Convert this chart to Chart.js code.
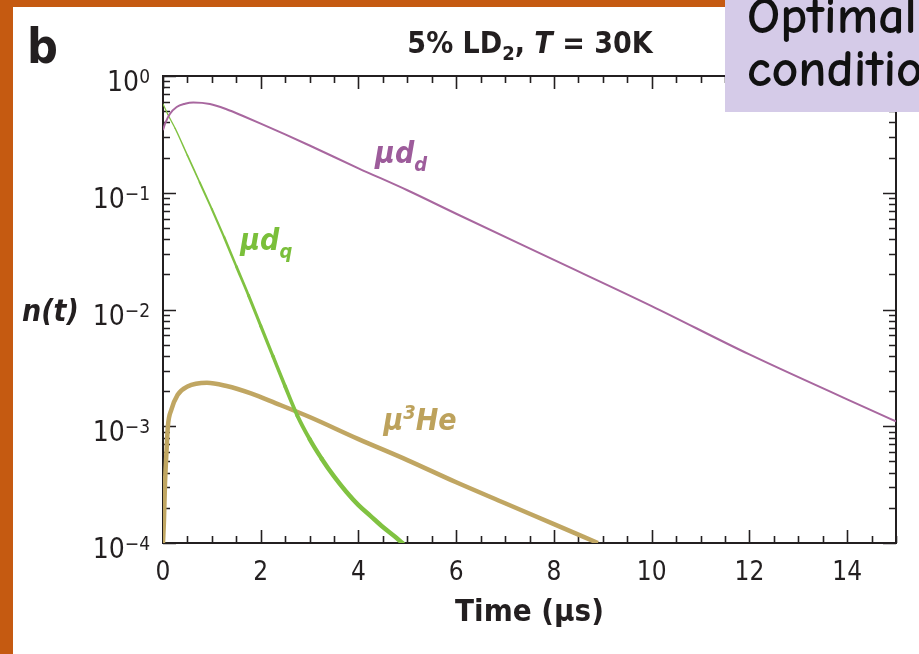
<!DOCTYPE html>
<html lang="en">
<head>
<meta charset="utf-8">
<title>n(t)</title>
<script src="https://cdn.jsdelivr.net/npm/chart.js@4.4.1/dist/chart.umd.min.js"></script>
<style>
  html, body { margin: 0; padding: 0; background: #fff; }
  canvas { display: block; }
</style>
</head>
<body>
<canvas id="graficoN" width="919" height="654"></canvas>
<script>
// valores (eixo y logaritmico)
const tempoDd = [0, 0.05, 0.14, 0.28, 0.45, 0.62, 0.96, 1.3, 1.65, 2, 2.5, 3, 4, 5, 6, 8, 10, 12, 15];
const nDd = [0.344, 0.398, 0.473, 0.543, 0.578, 0.592, 0.575, 0.519, 0.452, 0.391, 0.316, 0.254, 0.162, 0.105, 0.0661, 0.0266, 0.0107, 0.00412, 0.0011];

const tempoDq = [0, 0.1, 0.25, 0.5, 0.75, 1, 1.25, 1.5, 1.75, 2, 2.25, 2.5, 2.75, 3, 3.25, 3.5, 3.75, 4, 4.25, 4.5, 4.75, 4.9];
const nDq = [0.575, 0.468, 0.355, 0.209, 0.123, 0.0724, 0.0417, 0.0234, 0.0132, 0.00724, 0.00398, 0.00219, 0.00123, 0.000776, 0.000525, 0.000372, 0.000275, 0.000211, 0.00017, 0.000137, 0.000113, 0.0001];

const tempoHe = [0, 0.02, 0.04, 0.07, 0.1, 0.17, 0.3, 0.5, 0.9, 1.3, 1.8, 2.3, 3, 4, 5, 6, 7, 8, 8.9];
const nHe = [0.0001, 0.000158, 0.000316, 0.000589, 0.001, 0.00138, 0.00186, 0.00219, 0.00236, 0.00221, 0.00191, 0.00158, 0.0012, 0.000776, 0.000513, 0.000331, 0.000219, 0.000145, 0.0001];

const rotulosX = [0, 2, 4, 6, 8, 10, 12, 14];
const decadasY = [1, 0.1, 0.01, 0.001, 0.0001];
const expoentesY = ['0', '\u22121', '\u22122', '\u22123', '\u22124'];

const FONTE = "'Liberation Sans Narrow', 'DejaVu Sans Condensed', 'Liberation Sans', sans-serif";

const pontos = (xs, ys) => xs.map((x, i) => ({ x: x, y: ys[i] }));

// escreve texto com partes em fontes diferentes (sub/sobrescritos)
function textoRico(ctx, x, y, partes, alinhar) {
    let total = 0;
    for (const p of partes) {
        ctx.font = p.f;
        total += ctx.measureText(p.t).width;
    }
    let cx = alinhar === 'center' ? x - total / 2 : alinhar === 'right' ? x - total : x;
    ctx.textAlign = 'left';
    ctx.textBaseline = 'alphabetic';
    for (const p of partes) {
        ctx.font = p.f;
        ctx.fillStyle = p.c || '#231f20';
        ctx.fillText(p.t, cx, y + (p.dy || 0));
        cx += ctx.measureText(p.t).width;
    }
}

const moldura = {
    id: 'moldura',
    beforeDatasetsDraw(chart) {
        const { ctx, chartArea: a, scales: { x, y } } = chart;
        ctx.save();
        ctx.strokeStyle = '#231f20';
        ctx.lineWidth = 1.6;
        ctx.beginPath();
        for (let t = 0; t <= 15; t += 0.5) {
            const px = Math.round(x.getPixelForValue(t)) + 0.5;
            const len = t % 2 === 0 ? 13 : 7;
            ctx.moveTo(px, a.bottom); ctx.lineTo(px, a.bottom - len);
            ctx.moveTo(px, a.top); ctx.lineTo(px, a.top + len);
        }
        for (let d = -4; d <= 0; d++) {
            for (let m = 1; m <= 9; m++) {
                const v = m * Math.pow(10, d);
                if (v > 1.0001) break;
                const py = Math.round(y.getPixelForValue(v)) + 0.5;
                const len = m === 1 ? 13 : 7;
                ctx.moveTo(a.left, py); ctx.lineTo(a.left + len, py);
                ctx.moveTo(a.right, py); ctx.lineTo(a.right - len, py);
            }
        }
        ctx.stroke();
        ctx.lineWidth = 2;
        ctx.strokeRect(a.left, a.top, a.right - a.left, a.bottom - a.top);
        ctx.restore();
    }
};

const textos = {
    id: 'textos',
    afterDraw(chart) {
        const { ctx, scales: { x, y } } = chart;
        ctx.save();

        // rotulos do eixo y: 10^n
        decadasY.forEach((v, i) => {
            const py = y.getPixelForValue(v);
            textoRico(ctx, 150, py + 15, [
                { t: '10', f: '28px ' + FONTE },
                { t: expoentesY[i], f: '19px ' + FONTE, dy: -8 }
            ], 'right');
        });

        textoRico(ctx, 22, 321, [{ t: 'n(t)', f: 'italic bold 30px ' + FONTE }]);
        textoRico(ctx, 27, 63, [{ t: 'b', f: 'bold 48px ' + FONTE }]);
        textoRico(ctx, 530, 53, [
            { t: '5% LD', f: 'bold 30px ' + FONTE },
            { t: '2', f: 'bold 20px ' + FONTE, dy: 7 },
            { t: ', ', f: 'bold 30px ' + FONTE },
            { t: 'T', f: 'italic bold 30px ' + FONTE },
            { t: ' = 30K', f: 'bold 30px ' + FONTE }
        ], 'center');

        // nomes das curvas
        const big = 'italic bold 30px ' + FONTE, small = 'italic bold 20px ' + FONTE;
        textoRico(ctx, x.getPixelForValue(4.34), y.getPixelForValue(0.18), [
            { t: '\u03bcd', f: big, c: '#9d5c9b' },
            { t: 'd', f: small, c: '#9d5c9b', dy: 8 }
        ]);
        textoRico(ctx, x.getPixelForValue(1.58), y.getPixelForValue(0.0324), [
            { t: '\u03bcd', f: big, c: '#7abf3a' },
            { t: 'q', f: small, c: '#7abf3a', dy: 8 }
        ]);
        textoRico(ctx, x.getPixelForValue(4.51), y.getPixelForValue(0.00093), [
            { t: '\u03bc', f: big, c: '#bda25c' },
            { t: '3', f: small, c: '#bda25c', dy: -11 },
            { t: 'He', f: big, c: '#bda25c' }
        ]);

        // moldura laranja e caixa lilas
        ctx.fillStyle = '#c55a11';
        ctx.fillRect(0, 0, 919, 7);
        ctx.fillRect(0, 0, 13, 654);
        ctx.fillStyle = '#d5cbe8';
        ctx.fillRect(725, 0, 194, 112);
        ctx.beginPath();
        ctx.rect(725, 0, 194, 112);
        ctx.clip();
        const fc = "bold 52px 'Comic Sans MS', 'Comic Neue', 'DejaVu Sans Condensed', sans-serif";
        textoRico(ctx, 747, 33, [{ t: 'Optimal', f: fc, c: '#111' }]);
        textoRico(ctx, 747, 86, [{ t: 'conditions', f: fc, c: '#111' }]);
        ctx.restore();
    }
};

const ctx = document.getElementById('graficoN').getContext('2d');
const grafico = new Chart(ctx, {
    type: 'line',
    data: {
        datasets: [
            {
                label: '\u03bcd_d',
                data: pontos(tempoDd, nDd),
                borderColor: '#a8679f',
                borderWidth: 2,
                pointRadius: 0,
                cubicInterpolationMode: 'monotone'
            },
            {
                label: '\u03bcd_q',
                data: pontos(tempoDq, nDq),
                borderColor: '#80c241',
                borderWidth: 2,
                borderCapStyle: 'round',
                borderJoinStyle: 'round',
                pointRadius: 0,
                cubicInterpolationMode: 'monotone',
                segment: {
                    borderWidth: c => 1.2 + 3.3 * Math.min(1, c.p0.parsed.x / 3.2)
                }
            },
            {
                label: '\u03bc3He',
                data: pontos(tempoHe, nHe),
                borderColor: '#c0a662',
                borderWidth: 4.5,
                pointRadius: 0,
                cubicInterpolationMode: 'monotone'
            }
        ]
    },
    options: {
        responsive: false,
        animation: false,
        devicePixelRatio: 1,
        layout: { padding: { left: 0, right: 23, top: 76, bottom: 0 } },
        plugins: {
            legend: { display: false },
            title: { display: false },
            tooltip: { enabled: false }
        },
        scales: {
            x: {
                type: 'linear',
                min: 0,
                max: 15,
                afterFit: s => { s.height = 111; },
                afterBuildTicks: s => { s.ticks = rotulosX.map(v => ({ value: v })); },
                grid: { display: false, drawTicks: false },
                border: { display: false },
                ticks: {
                    padding: 15,
                    maxRotation: 0,
                    color: '#231f20',
                    font: { family: FONTE, size: 26 }
                },
                title: {
                    display: true,
                    text: 'Time (\u00b5s)',
                    color: '#231f20',
                    font: { family: FONTE, size: 31, weight: 'bold' },
                    padding: { top: 0, bottom: 22 }
                }
            },
            y: {
                type: 'logarithmic',
                min: 0.0001,
                max: 1,
                afterFit: s => { s.width = 163; },
                grid: { display: false, drawTicks: false },
                border: { display: false },
                ticks: { display: false }
            }
        }
    },
    plugins: [moldura, textos]
});
</script>
</body>
</html>
